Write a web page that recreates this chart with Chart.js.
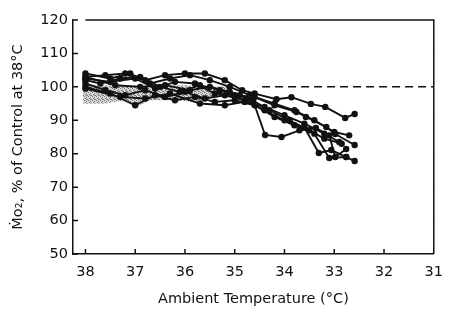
<!DOCTYPE html>
<html>
<head>
<meta charset="utf-8">
<script src="https://cdn.jsdelivr.net/npm/chart.js@4.4.0/dist/chart.umd.min.js"></script>
<style>
  html, body { margin: 0; padding: 0; background: #fff; }
</style>
</head>
<body>
<canvas id="chart" width="453" height="313"></canvas>
<script>
// tick labels
const xTicks = [38, 37, 36, 35, 34, 33, 32, 31];
const yTicks = [50, 60, 70, 80, 90, 100, 110, 120];

// each run: [ambient temp, Mo2 % of control]
const run1 = [[38,103],[37.6,103.5],[37.2,104],[36.8,102],[36.4,103.5],[36,104],[35.6,104],[35.2,102],[34.85,99],[34.6,98],[34.16,96.3],[33.86,96.9],[33.47,94.9],[33.18,94],[32.78,90.7],[32.59,91.9]];
const run2 = [[38,104],[37.5,102.5],[37.1,104],[36.7,101],[36.3,102.5],[35.9,103.5],[35.5,102],[35.1,100],[34.7,97.5],[34.2,94.5],[33.76,92.5],[33.57,91],[33.16,88],[32.98,85.9],[32.59,82.6]];
const run3 = [[38,102],[37.7,101],[37.3,102.5],[36.9,103],[36.5,100],[36.1,98.5],[35.7,100.5],[35.3,99],[34.9,97.5],[34.63,95.8],[34.39,85.6],[34.06,85],[33.7,87],[33.37,87.7],[33.1,85.5],[32.98,79],[32.76,81.4]];
const run4 = [[38,101],[37.6,99],[37.2,97.5],[36.8,99],[36.4,97],[36,98.5],[35.6,96.5],[35.2,97.5],[34.8,96],[34.4,93],[34,90],[33.6,87.8],[33.31,80.2],[33.06,81.1],[32.76,79]];
const run5 = [[38,100],[37.5,98],[37,94.5],[36.6,97.5],[36.2,96],[35.8,97],[35.4,95.5],[35,96],[34.6,94.5],[34.2,91],[33.8,88.5],[33.4,86],[33.1,78.7],[32.76,79],[32.59,77.8]];
const run6 = [[38,103],[37.4,100.5],[36.9,100],[36.4,100.5],[35.9,99],[35.5,100],[35.1,98.5],[34.7,96.5],[34.3,93],[33.9,90],[33.5,87],[33.2,84.5],[32.85,83]];
const run7 = [[38,102.5],[37.5,101.5],[37,102.5],[36.6,99.5],[36.2,101.5],[35.8,101],[35.4,98],[35,97.5],[34.6,97],[34.2,95],[33.8,93],[33.4,90],[33,86.5],[32.7,85.5]];
const run8 = [[38,99.5],[37.3,97],[36.8,96.5],[36.3,98],[35.7,95],[35.2,94.5],[34.8,95.5],[34.4,94],[34,91.5],[33.6,89],[33.2,86],[32.9,83.5]];
const runs = [run1, run2, run3, run4, run5, run6, run7, run8];

// control level (dashed) and the stippled band
const controlLine = [[34.45,100],[31,100]];
const bandTop = [[38.05,100.5],[37,100.5],[36,100.5],[35.1,100]];
const bandLow = [[38.05,95],[37.6,95],[37.2,96],[37,94],[36.7,96],[36.2,96],[35.8,95.5],[35.4,97],[35.1,99]];

const toXY = arr => arr.map(p => ({x: p[0], y: p[1]}));

// stipple pattern for the band
const pc = document.createElement('canvas');
pc.width = 4; pc.height = 4;
const pctx = pc.getContext('2d');
pctx.fillStyle = '#d8d8d8'; pctx.fillRect(0, 0, 4, 4);
pctx.fillStyle = '#777';
[[0,0],[2,1],[1,2],[3,3],[2,3]].forEach(d => pctx.fillRect(d[0], d[1], 1, 1));
const stipple = document.getElementById('chart').getContext('2d').createPattern(pc, 'repeat');

const datasets = runs.map(r => ({
    data: toXY(r),
    borderColor: '#111',
    backgroundColor: '#111',
    borderWidth: 1.9,
    pointRadius: 3.2,
    pointBorderWidth: 0,
    tension: 0,
    order: 1
}));
datasets.push({
    data: toXY(controlLine),
    borderColor: '#111',
    borderWidth: 1.5,
    borderDash: [8, 5],
    pointRadius: 0,
    order: 2
});
datasets.push({
    data: toXY(bandLow),
    borderWidth: 0,
    pointRadius: 0,
    fill: false,
    order: 5
});
datasets.push({
    data: toXY(bandTop),
    borderWidth: 0,
    pointRadius: 0,
    backgroundColor: stipple,
    fill: '-1',
    order: 4
});

// top/right frame and inward tick marks
const framePlugin = {
    id: 'frame',
    afterDraw(chart) {
        const {ctx, chartArea: a, scales: {x, y}} = chart;
        ctx.save();
        ctx.strokeStyle = '#111';
        ctx.lineWidth = 1.5;
        ctx.beginPath();
        ctx.moveTo(x.getPixelForValue(38), a.top);
        ctx.lineTo(a.right, a.top);
        ctx.lineTo(a.right, a.bottom);
        xTicks.forEach(v => {
            const px = x.getPixelForValue(v);
            ctx.moveTo(px, a.bottom);
            ctx.lineTo(px, a.bottom - 5);
        });
        yTicks.forEach(v => {
            const py = y.getPixelForValue(v);
            ctx.moveTo(a.left, py);
            ctx.lineTo(a.left + 5, py);
        });
        ctx.stroke();
        ctx.restore();
    }
};

const font = {family: 'DejaVu Sans', size: 14.5};

new Chart(document.getElementById('chart'), {
    type: 'line',
    data: {datasets},
    options: {
        responsive: false,
        animation: false,
        layout: {padding: {top: 20, right: 10, left: 0, bottom: 0}},
        plugins: {legend: {display: false}, tooltip: {enabled: false}},
        scales: {
            x: {
                type: 'linear',
                reverse: true,
                min: 31,
                max: 38.25,
                afterFit: s => { s.height = 59; },
                afterBuildTicks: s => { s.ticks = xTicks.map(v => ({value: v})); },
                grid: {display: true, drawOnChartArea: false, drawTicks: false},
                border: {display: true, color: '#111', width: 1.5},
                ticks: {color: '#111', font, padding: 10, maxRotation: 0, autoSkip: false},
                title: {display: true, text: 'Ambient Temperature (°C)', color: '#111', font, padding: {top: 0, bottom: 5}}
            },
            y: {
                min: 50,
                max: 120,
                afterFit: s => { s.width = 73; },
                afterBuildTicks: s => { s.ticks = yTicks.map(v => ({value: v})); },
                grid: {display: true, drawOnChartArea: false, drawTicks: false},
                border: {display: true, color: '#111', width: 1.5},
                ticks: {color: '#111', font, padding: 5},
                title: {display: true, text: 'Ṁo₂, % of Control at 38°C', color: '#111', font, padding: {top: 10, bottom: 0}}
            }
        }
    },
    plugins: [framePlugin]
});
</script>
</body>
</html>
